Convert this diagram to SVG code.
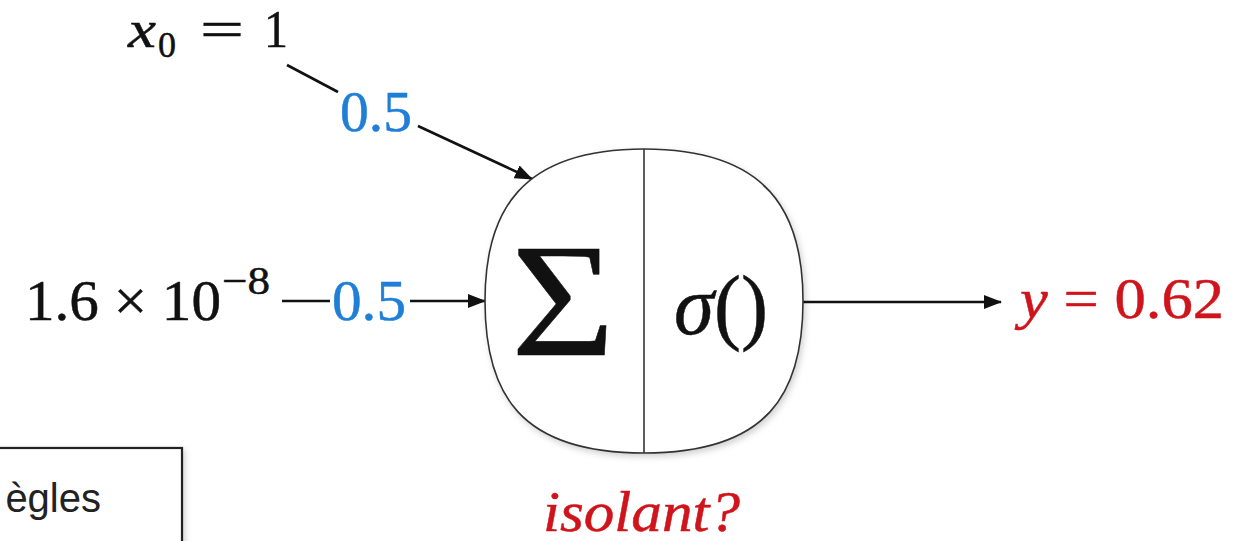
<svg xmlns="http://www.w3.org/2000/svg" width="1255" height="541" viewBox="0 0 1255 541">
  <style>
    .math { font-family: "Liberation Serif", "DejaVu Serif", serif; fill: #111; stroke: #111; stroke-width: 0.5; }
    .it { font-style: italic; }
    .blue { fill: #1f7fd6; stroke: #1f7fd6; }
    .red { fill: #d0141c; stroke: #d0141c; }
    .conn { stroke: #111; stroke-width: 2.6; fill: none; }
  </style>
  <defs>
    <marker id="arr" viewBox="0 0 18 14" refX="17" refY="7" markerWidth="18" markerHeight="14" markerUnits="userSpaceOnUse" orient="auto">
      <path d="M0,0 L18,7 L0,14 Z" fill="#111"/>
    </marker>
    <filter id="sh" x="-10%" y="-10%" width="130%" height="130%">
      <feDropShadow dx="2" dy="3" stdDeviation="3" flood-color="#000" flood-opacity="0.18"/>
    </filter>
  </defs>
  <rect width="1255" height="541" fill="#fff"/>

  <g id="connectors">
    <line class="conn" x1="287" y1="65" x2="338" y2="92"/>
    <line class="conn" x1="418" y1="126" x2="532" y2="179" marker-end="url(#arr)"/>
    <line class="conn" x1="282" y1="301" x2="330" y2="301"/>
    <line class="conn" x1="410" y1="301" x2="485" y2="301" marker-end="url(#arr)"/>
    <line class="conn" x1="803" y1="302" x2="1001" y2="302" marker-end="url(#arr)"/>
  </g>

  <g id="input-x0">
    <text class="math it" x="128" y="47" font-size="52" textLength="28" lengthAdjust="spacingAndGlyphs">x</text>
    <text class="math" x="158" y="57" font-size="36">0</text>
    <text class="math" x="200" y="47" font-size="52" textLength="44" lengthAdjust="spacingAndGlyphs">=</text>
    <text class="math" x="264" y="47" font-size="52" textLength="24" lengthAdjust="spacingAndGlyphs">1</text>
  </g>

  <g id="input-x1">
    <text class="math" x="25" y="320" font-size="56" textLength="196" lengthAdjust="spacingAndGlyphs">1.6 × 10</text>
    <text class="math" x="222" y="294" font-size="40" textLength="48" lengthAdjust="spacingAndGlyphs">−8</text>
  </g>

  <g id="weight-top">
    <text class="math blue" x="340" y="131" font-size="56" textLength="72" lengthAdjust="spacingAndGlyphs">0.5</text>
  </g>
  <g id="weight-left">
    <text class="math blue" x="332" y="320" font-size="56" textLength="74" lengthAdjust="spacingAndGlyphs">0.5</text>
  </g>

  <g id="neuron">
    <path d="M644,149 C768,149 803,212 803,301 C803,394 768,453 644,453 C520,453 485,394 485,301 C485,212 520,149 644,149 Z" fill="#fff" stroke="#333" stroke-width="1.6" filter="url(#sh)"/>
    <line x1="644" y1="149" x2="644" y2="453" stroke="#333" stroke-width="1.6"/>
    <text class="math" x="563" y="355" font-size="160" text-anchor="middle" textLength="104" lengthAdjust="spacingAndGlyphs">Σ</text>
    <text class="math" x="674" y="334" font-size="84" textLength="94" lengthAdjust="spacingAndGlyphs"><tspan class="it">σ</tspan>()</text>
  </g>

  <g id="output">
    <text class="math red" x="1020" y="318" font-size="58" textLength="204" lengthAdjust="spacingAndGlyphs"><tspan class="it">y</tspan> = 0.62</text>
  </g>

  <g id="label-isolant">
    <text class="math it red" x="543" y="531" font-size="56" textLength="197" lengthAdjust="spacingAndGlyphs">isolant?</text>
  </g>

  <g id="rules-box">
    <rect x="-10" y="448" width="192" height="120" fill="#fff" stroke="#222" stroke-width="2.2" filter="url(#sh)"/>
    <text x="101" y="512" font-family="Liberation Sans, Arial, sans-serif" font-size="40" fill="#222" text-anchor="end">ègles</text>
  </g>
</svg>
